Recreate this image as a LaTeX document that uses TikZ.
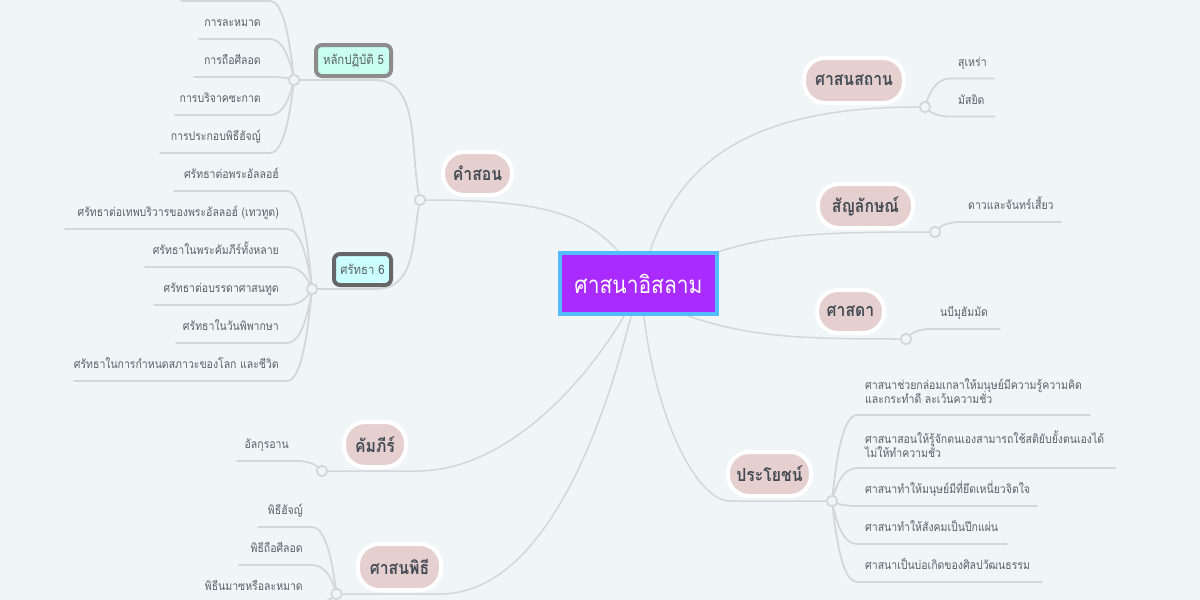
\documentclass[tikz,border=0pt]{standalone}
\usepackage{fontspec}
\setmainfont[Script=Thai,FakeStretch=0.875]{Loma}
\usetikzlibrary{backgrounds,calc}
\definecolor{bgc}{HTML}{F0F5F8}
\definecolor{linec}{HTML}{D3D7DA}
\definecolor{txtc}{HTML}{5A6066}
\definecolor{branchc}{HTML}{E6CFCF}
\definecolor{darktxt}{HTML}{434B54}
\definecolor{rootfill}{HTML}{AA2BFF}
\definecolor{rootline}{HTML}{55BBFF}
\definecolor{fivefill}{HTML}{C8FFEE}
\definecolor{sixfill}{HTML}{CCFFFF}
\definecolor{fiveline}{HTML}{8C8C8C}
\definecolor{sixline}{HTML}{666666}
\tikzset{
  conn/.style={draw=linec,line width=1.8pt,line cap=round},
  mainconn/.style={draw=linec,line width=1.5pt,line cap=round},
  hubnode/.style={circle,draw=linec,fill=bgc,line width=1.8pt,minimum size=10.5pt,inner sep=0pt},
  branchnode/.style={rounded corners=21pt,draw=white,line width=4pt,fill=branchc,text=darktxt,font=\fontsize{18}{22}\selectfont\bfseries,inner sep=0pt,anchor=center},
  leaftext/.style={text=txtc,font=\fontsize{12}{14}\selectfont,inner sep=0pt},
  subnode/.style={rounded corners=6pt,line width=4pt,text=txtc,font=\fontsize{13}{15}\selectfont,inner sep=0pt,anchor=center}
}
\newcommand\lfconn[3]{\draw[conn] let \p1=(#1.center),\p2=(#2) in (\p1) .. controls ({\x1+0.2*(\x2-\x1)},{\y1+0.6*(\y2-\y1)}) and ({\x1+0.5*(\x2-\x1)},\y2) .. (\p2) -- (#3);}
% hub, id, x of far end, x of corner, y of line, x of text, y of text, anchor, text
\newcommand\leafitem[9]{%
  \node[leaftext,anchor=#8,align=left] (#2) at (#6,#7) {#9};
  \coordinate (#2-c) at (#4,#5);
  \coordinate (#2-e) at (#3,#5);
  \begin{pgfonlayer}{background}\lfconn{#1}{#2-c}{#2-e}\end{pgfonlayer}}
\begin{document}
\begin{tikzpicture}[x=1pt,y=-1pt]
\useasboundingbox (0,0) rectangle (1200,600);
\begin{pgfonlayer}{background}
\fill[bgc] (0,0) rectangle (1200,600);
\end{pgfonlayer}
% root
\node[draw=rootline,fill=rootfill,line width=4pt,minimum width=157pt,minimum height=61pt,text=white,font=\fontsize{24}{28}\selectfont,inner sep=0pt] (root) at (638.5,283.5) {ศาสนาอิสลาม};
% hubs
\node[hubnode] (hubsorn) at (420,200) {};
\node[hubnode] (hubfive) at (294,80) {};
\node[hubnode] (hubsix) at (312,289) {};
\node[hubnode] (hubkam) at (322,471) {};
\node[hubnode] (hubpit) at (336.5,594) {};
\node[hubnode] (hubsat) at (925,107) {};
\node[hubnode] (hubsym) at (935,232) {};
\node[hubnode] (hubpro) at (906,339) {};
\node[hubnode] (hubben) at (832,501) {};
% branches
\node[branchnode,minimum width=69pt,minimum height=43pt] (sorn) at (477.5,173.5) {คำสอน};
\node[branchnode,minimum width=62pt,minimum height=45pt] (kam) at (375,444.5) {คัมภีร์};
\node[branchnode,minimum width=83pt,minimum height=46pt] (pit) at (399.5,567) {ศาสนพิธี};
\node[branchnode,minimum width=100pt,minimum height=45pt] (sat) at (854,80.5) {ศาสนสถาน};
\node[branchnode,minimum width=95pt,minimum height=44pt] (sym) at (865.5,206) {สัญลักษณ์};
\node[branchnode,minimum width=67pt,minimum height=43pt] (pro) at (850.5,311.5) {ศาสดา};
\node[branchnode,minimum width=83pt,minimum height=44pt] (ben) at (769.5,474) {ประโยชน์};
\node[subnode,draw=fiveline,fill=fivefill,minimum width=75pt,minimum height=31pt] (five) at (353.5,60.5) {หลักปฏิบัติ 5};
\node[subnode,draw=sixline,fill=sixfill,minimum width=57pt,minimum height=31pt] (six) at (362.5,269.5) {ศรัทธา 6};
% main connectors
\coordinate (ra) at (618,251);
\coordinate (rb) at (650,251);
\coordinate (rc) at (718,252);
\coordinate (rd) at (688,316);
\coordinate (re) at (644,316);
\coordinate (rf) at (631,316);
\coordinate (rg) at (624,316);
\coordinate (kamc) at (417,471);
\coordinate (pitc) at (440,594);
\coordinate (benc) at (730,501);
\begin{pgfonlayer}{background}
\draw[mainconn] (ra) .. controls (585,215) and (545,200) .. (hubsorn);
\draw[mainconn] (rb) .. controls (680,165) and (745,107) .. (hubsat);
\draw[mainconn] (rc) .. controls (770,235) and (815,232) .. (hubsym);
\draw[mainconn] (rd) .. controls (750,337) and (800,339) .. (hubpro);
\draw[mainconn] (re) .. controls (656,420) and (697,501) .. (benc) -- (hubben);
\draw[mainconn] (rf) .. controls (600,440) and (540,594) .. (pitc) -- (hubpit);
\draw[mainconn] (rg) .. controls (590,375) and (510,471) .. (kamc) -- (hubkam);
\draw[conn] (hubsorn) .. controls (410,150) and (420,80) .. (375,80) -- (hubfive);
\draw[conn] (hubsorn) .. controls (412,245) and (415,289) .. (375,289) -- (hubsix);
\end{pgfonlayer}
% five leaves
\coordinate (topleaf-c) at (270,1);
\coordinate (topleaf-e) at (181,1);
\begin{pgfonlayer}{background}\lfconn{hubfive}{topleaf-c}{topleaf-e}\end{pgfonlayer}
\leafitem{hubfive}{f1}{199}{270}{39}{261}{26.5}{base east}{การละหมาด}
\leafitem{hubfive}{f2}{194}{270}{77}{261}{64.5}{base east}{การถือศีลอด}
\leafitem{hubfive}{f3}{175}{270}{115}{261}{102.5}{base east}{การบริจาคซะกาต}
\leafitem{hubfive}{f4}{160}{270}{153}{261}{140.5}{base east}{การประกอบพิธีฮัจญ์}
% six leaves
\leafitem{hubsix}{s1}{174}{287}{191}{279}{178.5}{base east}{ศรัทธาต่อพระอัลลอฮ์}
\leafitem{hubsix}{s2}{65}{287}{229}{279}{216.5}{base east}{ศรัทธาต่อเทพบริวารของพระอัลลอฮ์ (เทวทูต)}
\leafitem{hubsix}{s3}{145}{287}{267}{279}{254.5}{base east}{ศรัทธาในพระคัมภีร์ทั้งหลาย}
\leafitem{hubsix}{s4}{154}{287}{305}{279}{292.5}{base east}{ศรัทธาต่อบรรดาศาสนทูต}
\leafitem{hubsix}{s5}{176}{287}{343}{279}{330.5}{base east}{ศรัทธาในวันพิพากษา}
\leafitem{hubsix}{s6}{74}{287}{381}{279}{368.5}{base east}{ศรัทธาในการกำหนดสภาวะของโลก และชีวิต}
% scripture, rites
\leafitem{hubkam}{k1}{237}{297}{461}{289}{448.5}{base east}{อัลกุรอาน}
\leafitem{hubpit}{p1}{258}{312}{527}{303}{514.5}{base east}{พิธีฮัจญ์}
\leafitem{hubpit}{p2}{239}{312}{565}{303}{552.5}{base east}{พิธีถือศีลอด}
\leafitem{hubpit}{p3}{195}{312}{603}{303}{590.5}{base east}{พิธีนมาซหรือละหมาด}
% right side leaves
\leafitem{hubsat}{a1}{994}{950}{78.5}{958}{66}{base west}{สุเหร่า}
\leafitem{hubsat}{a2}{995}{950}{116.5}{958}{104}{base west}{มัสยิด}
\leafitem{hubsym}{y1}{1061}{960}{222}{968}{209.5}{base west}{ดาวและจันทร์เสี้ยว}
\leafitem{hubpro}{r1}{1000}{930}{329}{940}{316.5}{base west}{นบีมุฮัมมัด}
\leafitem{hubben}{b1}{1090}{857}{415}{865}{391}{west}{ศาสนาช่วยกล่อมเกลาให้มนุษย์มีความรู้ความคิด\\[-2pt]และกระทำดี ละเว้นความชั่ว}
\leafitem{hubben}{b2}{1115}{857}{468}{865}{444}{west}{ศาสนาสอนให้รู้จักตนเองสามารถใช้สติยับยั้งตนเองได้\\[-2pt]ไม่ให้ทำความชั่ว}
\leafitem{hubben}{b3}{1037}{857}{506}{865}{493.5}{base west}{ศาสนาทำให้มนุษย์มีที่ยึดเหนี่ยวจิตใจ}
\leafitem{hubben}{b4}{1007}{857}{544}{865}{531.5}{base west}{ศาสนาทำให้สังคมเป็นปึกแผ่น}
\leafitem{hubben}{b5}{1042}{857}{582}{865}{569.5}{base west}{ศาสนาเป็นบ่อเกิดของศิลปวัฒนธรรม}
\end{tikzpicture}
\end{document}
